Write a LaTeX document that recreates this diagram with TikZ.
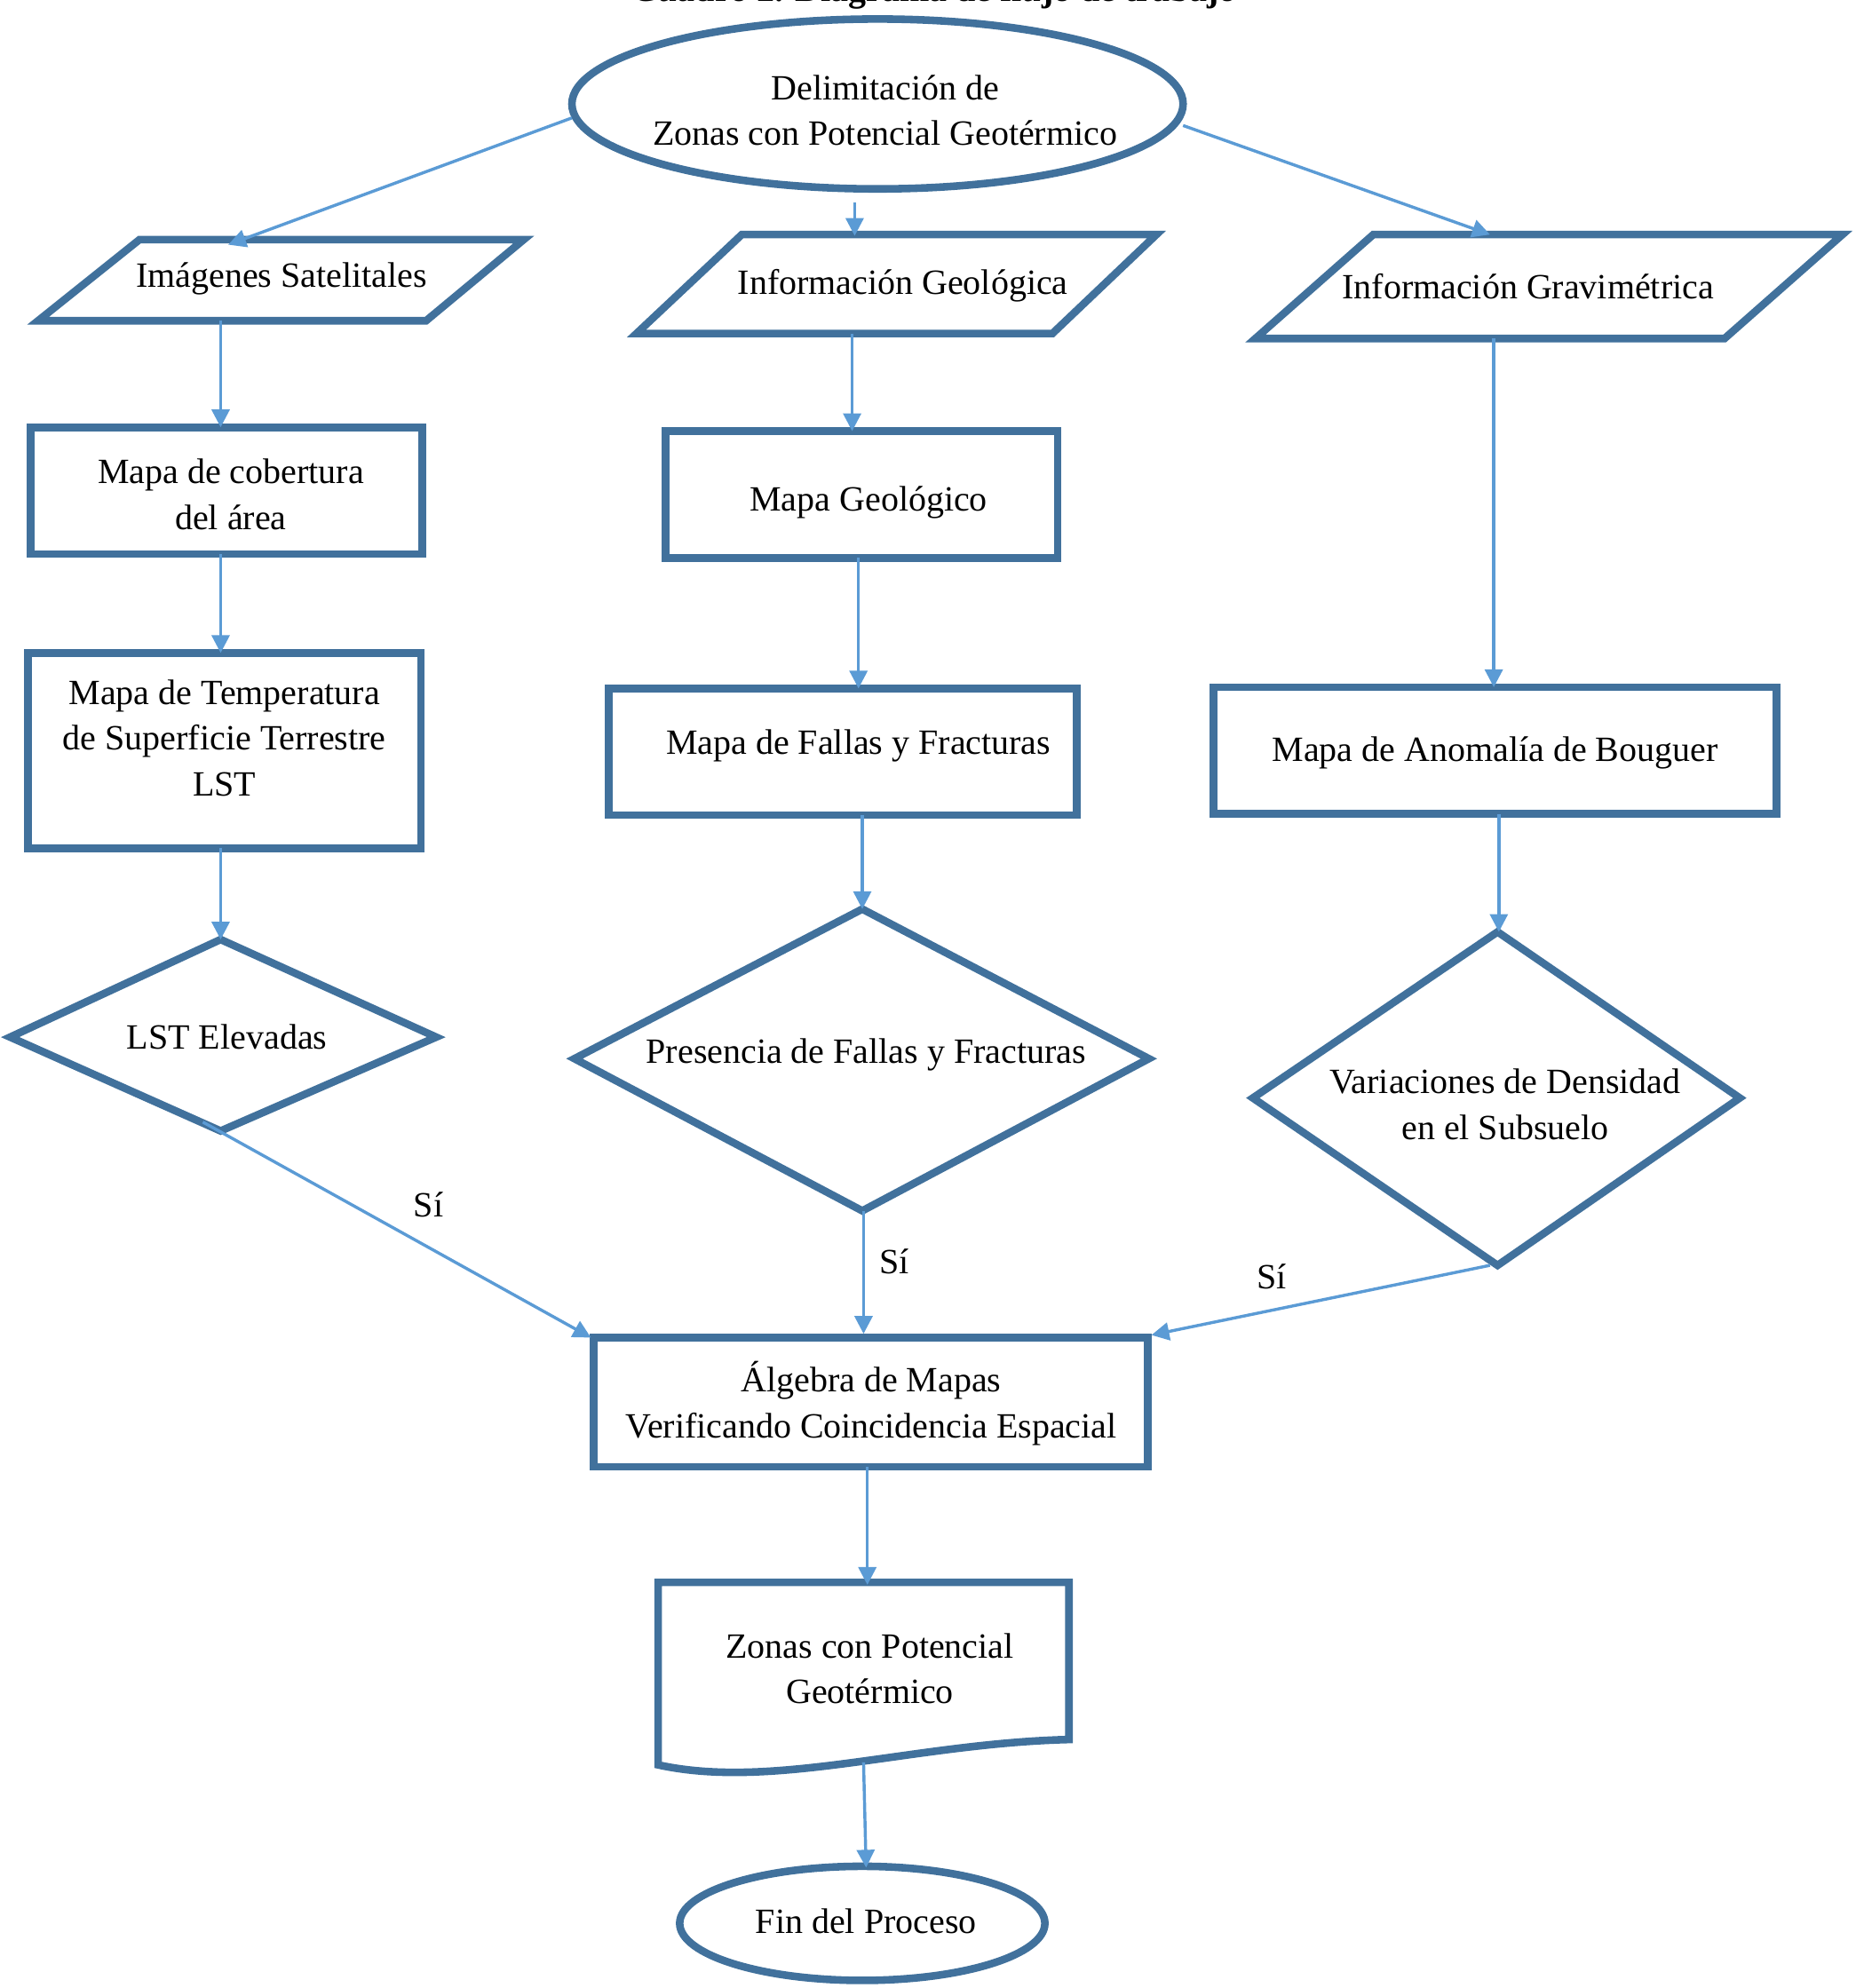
\documentclass[tikz,border=0pt]{standalone}
\usepackage{fontspec}
\setmainfont{Liberation Serif}
\usetikzlibrary{arrows.meta}
\definecolor{bord}{HTML}{41719C}
\definecolor{arr}{HTML}{5B9BD5}
\begin{document}
\begin{tikzpicture}[x=0.5pt,y=-0.5pt,
  shp/.style={draw=bord,line width=3pt,line join=miter},
  con/.style={draw=arr,line width=1.2pt,-{Triangle[length=7pt,width=7pt]}},
  txt/.style={font=\fontsize{14}{18}\selectfont,align=center,inner sep=0pt},
  lab/.style={font=\fontsize{14}{18}\selectfont,inner sep=0pt}]
\useasboundingbox (0,0) rectangle (1463,1568);
\node[font=\bfseries\fontsize{14}{18}\selectfont] (title) at (737,-6) {Cuadro 2. Diagrama de flujo de trabajo};
% shapes
\draw[shp] (692,82) ellipse [x radius=241,y radius=67];
\node[txt] (t0) at (698,87) {Delimitación de\\Zonas con Potencial Geotérmico};
\draw[shp] (110,189)--(413,189)--(336,253)--(30,253)--cycle;
\node[txt] (t1) at (222,220) {Imágenes Satelitales};
\draw[shp] (585,185)--(912,185)--(830,263)--(502,263)--cycle;
\node[txt] (t2) at (712,225) {Información Geológica};
\draw[shp] (1083,185)--(1453,185)--(1360,267)--(990,267)--cycle;
\node[txt] (t3) at (1205,226) {Información Gravimétrica};
\draw[shp] (24,337) rectangle (333,437);
\node[txt] (t4) at (182,390) {Mapa de cobertura\\del área};
\draw[shp] (525,340) rectangle (834,440);
\node[txt] (t5) at (685,396) {Mapa Geológico};
\draw[shp] (22,515) rectangle (332,669);
\node[txt] (t6) at (177,582) {Mapa de Temperatura\\de Superficie Terrestre\\LST};
\draw[shp] (480,543) rectangle (849,643);
\node[txt] (t7) at (677,588) {Mapa de Fallas y Fracturas};
\draw[shp] (957,542) rectangle (1401,642);
\node[txt] (t8) at (1179,594) {Mapa de Anomalía de Bouguer};
\draw[shp] (8,818)--(174,741)--(344,818)--(174,892)--cycle;
\node[txt] (t9) at (179,818) {LST Elevadas};
\draw[shp] (453,835)--(680,717)--(906,835)--(680,955)--cycle;
\node[txt] (t10) at (683,832) {Presencia de Fallas y Fracturas};
\draw[shp] (988,866)--(1181,735)--(1372,866)--(1181,998)--cycle;
\node[txt] (t11) at (1187,871) {Variaciones de Densidad\\en el Subsuelo};
\draw[shp] (468,1055) rectangle (905,1157);
\node[txt] (t12) at (687,1107) {Álgebra de Mapas\\Verificando Coincidencia Espacial};
\draw[shp] (519,1248)--(843,1248)--(843,1372) .. controls (720,1375) and (610,1412) .. (519,1392)--cycle;
\node[txt] (t13) at (686,1316) {Zonas con Potencial\\Geotérmico};
\draw[shp] (680,1517) ellipse [x radius=144,y radius=45];
\node[txt] (t14) at (683,1515) {Fin del Proceso};
% connectors
\coordinate (a1) at (451,93); \coordinate (b1) at (180,193);
\coordinate (a2) at (674,160); \coordinate (b2) at (674,186);
\coordinate (a3) at (933,99); \coordinate (b3) at (1175,185);
\coordinate (a4) at (174,253); \coordinate (b4) at (174,337);
\coordinate (a5) at (672,263); \coordinate (b5) at (672,340);
\coordinate (a6) at (1178,267); \coordinate (b6) at (1178,542);
\coordinate (a7) at (174,437); \coordinate (b7) at (174,515);
\coordinate (a8) at (677,440); \coordinate (b8) at (677,543);
\coordinate (a9) at (174,669); \coordinate (b9) at (174,741);
\coordinate (a10) at (680,643); \coordinate (b10) at (680,717);
\coordinate (a11) at (1182,642); \coordinate (b11) at (1182,735);
\coordinate (a12) at (160,885); \coordinate (b12) at (466,1055);
\coordinate (a13) at (681,955); \coordinate (b13) at (681,1052);
\coordinate (a14) at (1175,998); \coordinate (b14) at (908,1053);
\coordinate (a15) at (684,1157); \coordinate (b15) at (684,1250);
\coordinate (a16) at (681,1390); \coordinate (b16) at (683,1473);
\foreach \i in {1,...,16} \draw[con] (a\i) -- (b\i);
\node[lab] (s1) at (338,950) {Sí};
\node[lab] (s2) at (705,995) {Sí};
\node[lab] (s3) at (1003,1007) {Sí};
\end{tikzpicture}
\end{document}
